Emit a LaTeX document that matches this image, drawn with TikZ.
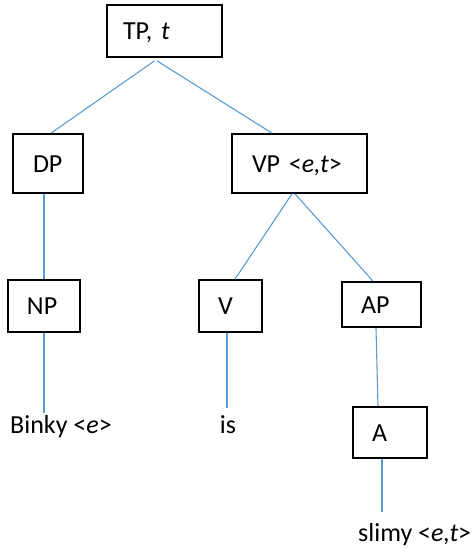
\documentclass[tikz,border=0pt]{standalone}
\usepackage{fontspec}
\setmainfont{Carlito}
\definecolor{lineblue}{RGB}{91,155,213}
\begin{document}
\begin{tikzpicture}[x=1pt,y=-1pt,
  lbl/.style={font=\fontsize{26}{30}\selectfont},
  box/.style={lbl,draw=black,line width=1.7pt,rectangle,inner ysep=0pt,
    align=left,text height=17pt,text depth=0pt},
  leaf/.style={lbl,inner sep=0pt},
  edge/.style={draw=lineblue,line width=1.1pt}]
\useasboundingbox (0,0) rectangle (475,549);
% boxes
\node[box,inner xsep=16pt,text width=83pt,minimum width=115pt,minimum height=52pt] (TP) at (164.5,31) {TP, \textit{t}};
\node[box,inner xsep=20pt,text width=30pt,minimum width=70pt,minimum height=59pt] (DP) at (48,163.5) {DP};
\node[box,inner xsep=20pt,text width=95pt,minimum width=135pt,minimum height=59pt] (VP) at (299.5,163.5) {VP <\textit{e,t}>};
\node[box,inner xsep=19pt,text width=34pt,minimum width=72pt,minimum height=52pt] (NP) at (44,306) {NP};
\node[box,inner xsep=19pt,text width=25pt,minimum width=63pt,minimum height=52pt] (V) at (230.5,306) {V};
\node[box,inner xsep=19pt,text width=41pt,minimum width=79pt,minimum height=45pt] (AP) at (381.5,304.5) {AP};
\node[box,inner xsep=19pt,text width=36pt,minimum width=74pt,minimum height=51pt] (A) at (390,432.5) {A};
% leaves
\node[leaf,anchor=base west] (Binky) at (10,433) {Binky <\textit{e}>};
\node[leaf,anchor=base] (is) at (228,433) {is};
\node[leaf,anchor=base west] (slimy) at (358,541) {slimy <\textit{e,t}>};
% free ends above leaves
\coordinate (bEnd) at (44,413);
\coordinate (iEnd) at (227,408);
\coordinate (sEnd) at (382,512);
% connectors
\draw[edge] ([xshift=-10pt,yshift=-3pt]TP.south) -- ([xshift=3pt]DP.north);
\draw[edge] ([xshift=-7.5pt,yshift=-3pt]TP.south) -- ([xshift=-27.5pt]VP.north);
\draw[edge] ([xshift=-4pt]DP.south) -- (NP.north);
\draw[edge] ([xshift=-7.5pt]VP.south) -- ([xshift=4.5pt]V.north);
\draw[edge] ([xshift=-4.5pt]VP.south) -- ([xshift=-8.5pt]AP.north);
\draw[edge] (NP.south) -- (bEnd);
\draw[edge] ([xshift=-3.5pt]V.south) -- (iEnd);
\draw[edge] ([xshift=-5.5pt]AP.south) -- ([xshift=-12pt]A.north);
\draw[edge] ([xshift=-8pt]A.south) -- (sEnd);
\end{tikzpicture}
\end{document}
